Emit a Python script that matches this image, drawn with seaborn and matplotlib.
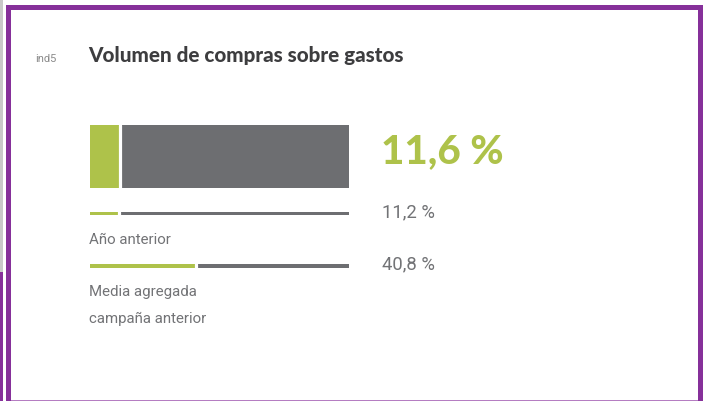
import matplotlib
matplotlib.use("Agg")
import matplotlib.pyplot as plt
import seaborn as sns
import pandas as pd
from matplotlib.patches import Rectangle

sns.set_theme(style="white")
plt.rcParams['font.family'] = ['Roboto', 'DejaVu Sans']

# ---- data ----
indicator_code = "ind5"
title = "Volumen de compras sobre gastos"
row_labels = ["Actual", "Año anterior", "Media agregada", "campaña anterior"]
values = [11.6, 11.2, 40.8]
value_labels = ["11,6 %", "11,2 %", "40,8 %"]
total = 100

GREEN = "#aec24a"
GRAY = "#6d6e71"
PURPLE = "#86309a"
LIGHT_PURPLE = "#b57dc2"
TEXT_GRAY = "#727376"

W, H = 707, 401
fig = plt.figure(figsize=(W / 100, H / 100), dpi=100)
fig.patch.set_facecolor("white")

def fx(px):
    return px / W

def fy(py):
    return 1 - py / H

# ---- frame ----
def rect(x0, y0, x1, y1, color):
    fig.patches.append(Rectangle((fx(x0), fy(y1)), fx(x1) - fx(x0), fy(y0) - fy(y1),
                                 transform=fig.transFigure, color=color, lw=0, zorder=0))

rect(0, 0, 3, 272, "#c9c9c9")
rect(0, 272, 3, 401, PURPLE)
rect(6, 5, 11, 401, PURPLE)
rect(6, 5, 703, 10, PURPLE)
rect(698, 5, 703, 401, PURPLE)
rect(11, 399.5, 698, 401, LIGHT_PURPLE)

# ---- bars ----
bar_x0, bar_x1 = 90, 349
rows = [(125, 188), (211.7, 214.7), (264.3, 267.8)]

for (y0, y1), v in zip(rows, values):
    ax = fig.add_axes([fx(bar_x0), fy(y1), fx(bar_x1) - fx(bar_x0), fy(y0) - fy(y1)])
    df_bg = pd.DataFrame({"v": [total], "r": ["r"]})
    df_fg = pd.DataFrame({"v": [v], "r": ["r"]})
    sns.barplot(data=df_bg, x="v", y="r", color=GRAY, width=1, ax=ax,
                saturation=1, edgecolor="none", orient="h")
    sns.barplot(data=df_fg, x="v", y="r", color=GREEN, width=1, ax=ax,
                saturation=1, edgecolor="none", orient="h")
    ax.axvline(v, color="white", lw=2.3)
    ax.set_xlim(0, total)
    ax.set_ylim(0.5, -0.5)
    ax.axis("off")

# ---- texts ----
fig.text(fx(35), fy(62), indicator_code, fontsize=8, color="#8a8a8a", va="baseline", ha="left")
fig.text(fx(88), fy(62), title, fontsize=14.9, fontweight="black", color="#3d3d3f",
         family=["Lato", "Roboto", "DejaVu Sans"], va="baseline", ha="left")

fig.text(fx(89), fy(243.5), row_labels[1], fontsize=10.8, color=TEXT_GRAY, va="baseline", ha="left")
fig.text(fx(89), fy(296), row_labels[2], fontsize=10.8, color=TEXT_GRAY, va="baseline", ha="left")
fig.text(fx(89), fy(323), row_labels[3], fontsize=10.8, color=TEXT_GRAY, va="baseline", ha="left")

fig.text(fx(381), fy(163.5), value_labels[0], fontsize=29, fontweight="black", color=GREEN,
         family=["Lato", "Roboto", "DejaVu Sans"], va="baseline", ha="left")
fig.text(fx(382), fy(217), value_labels[1], fontsize=13.3, color=TEXT_GRAY, va="baseline", ha="left")
fig.text(fx(382), fy(269.5), value_labels[2], fontsize=13.3, color=TEXT_GRAY, va="baseline", ha="left")

fig.savefig("out.png", dpi=100, facecolor="white")
